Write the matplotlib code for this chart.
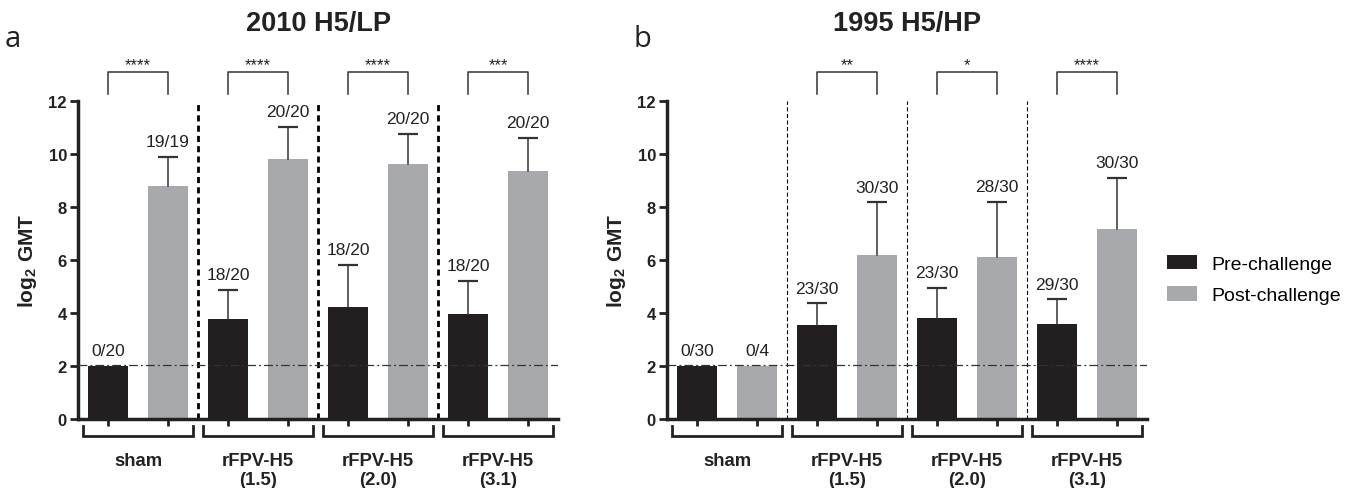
import matplotlib
matplotlib.use('Agg')
import matplotlib.pyplot as plt
from matplotlib.patches import Patch
import numpy as np

plt.rcParams['font.family'] = ['Liberation Sans', 'DejaVu Sans']
plt.rcParams['mathtext.fontset'] = 'custom'
plt.rcParams['mathtext.bf'] = 'Liberation Sans:bold'
plt.rcParams['mathtext.rm'] = 'Liberation Sans'

# ---------------- data ----------------
groups = ['sham', 'rFPV-H5\n(1.5)', 'rFPV-H5\n(2.0)', 'rFPV-H5\n(3.1)']
series = ['Pre-challenge', 'Post-challenge']

a_pre = [2.0, 3.78, 4.22, 3.95]
a_pre_top = [2.0, 4.86, 5.80, 5.21]
a_post = [8.80, 9.81, 9.62, 9.36]
a_post_top = [9.89, 11.02, 10.77, 10.60]
a_pre_lbl = ['0/20', '18/20', '18/20', '18/20']
a_post_lbl = ['19/19', '20/20', '20/20', '20/20']
a_sig = ['****', '****', '****', '***']

b_pre = [2.0, 3.55, 3.82, 3.58]
b_pre_top = [2.0, 4.36, 4.94, 4.51]
b_post = [2.0, 6.18, 6.13, 7.17]
b_post_top = [2.0, 8.17, 8.20, 9.08]
b_pre_lbl = ['0/30', '23/30', '23/30', '29/30']
b_post_lbl = ['0/4', '30/30', '28/30', '30/30']
b_sig = ['', '**', '*', '****']

detection_limit = 2.04

BLACK = '#231f20'
GRAY = '#a7a9ac'
INK = '#222222'

fig = plt.figure(figsize=(13.5, 4.89), dpi=100)
ax_a = fig.add_axes([78/1350, 1-420/489, 480/1350, 318/489])
ax_b = fig.add_axes([667/1350, 1-420/489, 480/1350, 318/489])


def draw(ax, pre, pre_top, post, post_top, pre_lbl, post_lbl, sig, sep_lw, sep_dash):
    x = np.arange(len(groups))
    off = 0.25
    w = 0.333
    cap = 0.08
    ax.bar(x - off, pre, width=w, color=BLACK, zorder=2)
    ax.bar(x + off, post, width=w, color=GRAY, zorder=2)
    for xs, vals, tops in ((x - off, pre, pre_top), (x + off, post, post_top)):
        for xi, v, t in zip(xs, vals, tops):
            if t - v > 0.01:
                ax.plot([xi, xi], [v, t], color='#333333', lw=1.1, zorder=3)
                ax.plot([xi - cap, xi + cap], [t, t], color='#333333', lw=1.6,
                        zorder=3, solid_capstyle='butt')
    for xi, t, l in zip(x - off, pre_top, pre_lbl):
        ax.text(xi, t + 0.3, l, ha='center', va='bottom', fontsize=12.5,
                color=INK)
    for xi, t, l in zip(x + off, post_top, post_lbl):
        ax.text(xi, t + 0.3, l, ha='center', va='bottom', fontsize=12.5,
                color=INK)
    # separators
    for s in [0.5, 1.5, 2.5]:
        ax.plot([s, s], [0, 12], color='black', lw=sep_lw, ls=(0, sep_dash),
                zorder=1, clip_on=False)
    # detection limit
    ax.axhline(detection_limit, color='#333333', lw=0.9,
               ls=(0, (7, 2.5, 1.5, 2.5)), zorder=4)
    # significance brackets
    for xi, s in zip(x, sig):
        if not s:
            continue
        ax.plot([xi - off, xi - off, xi + off, xi + off], [12.25, 13.1, 13.1, 12.25],
                color='#333333', lw=1.1, clip_on=False)
        ax.text(xi, 13.08, s, ha='center', va='bottom', fontsize=12,
                color=INK)
    # group brackets below axis
    for xi, g in zip(x, groups):
        ax.plot([xi - 0.455, xi - 0.455, xi + 0.455, xi + 0.455],
                [-0.26, -0.64, -0.64, -0.26], color=INK, lw=2,
                clip_on=False, solid_joinstyle='miter')
        ax.text(xi, -1.24, g, ha='center', va='top', fontsize=13.3,
                fontweight='bold', color=INK, linespacing=1.15)

    ax.set_xlim(-0.5, 3.5)
    ax.set_ylim(0, 12)
    ax.set_yticks(range(0, 13, 2))
    ax.set_xticks(np.concatenate([x - off, x + off]))
    ax.set_xticklabels([])
    ax.tick_params(axis='x', direction='out', length=5, width=2, color=INK)
    ax.tick_params(axis='y', direction='out', length=6, width=2, color=INK,
                   labelsize=12, pad=2)
    for lab in ax.get_yticklabels():
        lab.set_fontweight('bold')
        lab.set_color(INK)
    for sp in ['top', 'right']:
        ax.spines[sp].set_visible(False)
    for sp in ['left', 'bottom']:
        ax.spines[sp].set_linewidth(2.5)
        ax.spines[sp].set_color(INK)
    ax.set_ylabel(r'log$_{\mathbf{2}}$ GMT', fontsize=15, fontweight='bold',
                  labelpad=7, color=INK)


draw(ax_a, a_pre, a_pre_top, a_post, a_post_top, a_pre_lbl, a_post_lbl, a_sig,
     2.0, (2.2, 1.5))
draw(ax_b, b_pre, b_pre_top, b_post, b_post_top, b_pre_lbl, b_post_lbl, b_sig,
     0.8, (3.6, 2.3))

fig.text(318/1350, 1-24/489, '2010 H5/LP', ha='center', va='center',
         fontsize=19.5, fontweight='bold', color=INK)
fig.text(907/1350, 1-24/489, '1995 H5/HP', ha='center', va='center',
         fontsize=19.5, fontweight='bold', color=INK)
fig.text(5/1350, 1-47/489, 'a', ha='left', va='baseline', fontsize=21,
         family=['Open Sans', 'DejaVu Sans'], color=INK)
fig.text(634/1350, 1-47/489, 'b', ha='left', va='baseline', fontsize=21,
         family=['Open Sans', 'DejaVu Sans'], color=INK)

handles = [Patch(facecolor=BLACK, edgecolor='none'),
           Patch(facecolor=GRAY, edgecolor='none')]
fig.legend(handles, series, loc='upper left',
           bbox_to_anchor=(1167/1350, 1-256/489), frameon=False,
           prop={'family': ['Liberation Sans', 'DejaVu Sans'], 'size': 14},
           handlelength=1.55, handleheight=0.77, labelspacing=0.69,
           handletextpad=0.75, borderaxespad=0, borderpad=0)

fig.savefig('out.png', dpi=100)
